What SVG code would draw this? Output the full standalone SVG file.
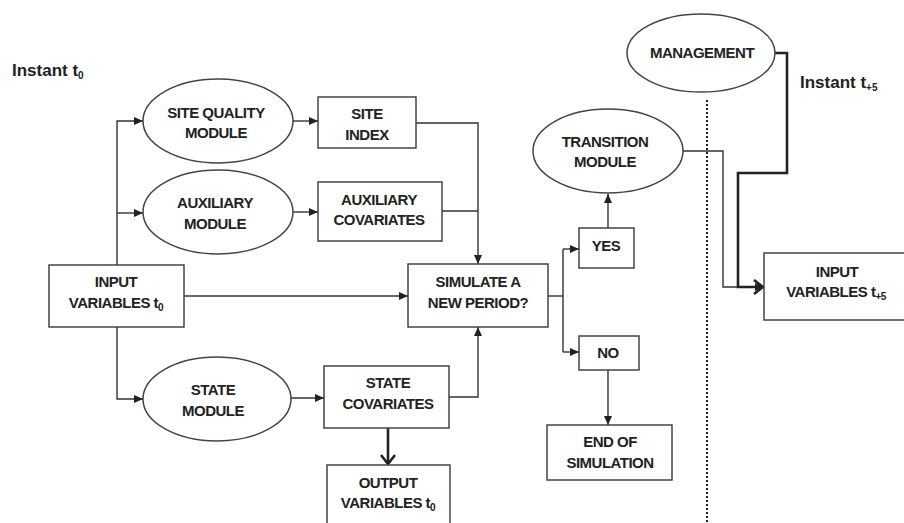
<svg xmlns="http://www.w3.org/2000/svg" width="904" height="523" viewBox="0 0 904 523">
<style>
.n{fill:#fff;stroke:#444;stroke-width:1.5}
.t{font-family:"Liberation Sans",Arial,sans-serif;font-size:15px;font-weight:bold;letter-spacing:-0.5px;fill:#222;text-anchor:middle}
.lbl{font-family:"Liberation Sans",Arial,sans-serif;font-size:17px;font-weight:bold;fill:#222}
.s{font-size:10px}
.c{fill:none;stroke:#333;stroke-width:1.4}
.ck{fill:none;stroke:#222;stroke-width:2.6}
.dot{fill:none;stroke:#222;stroke-width:2;stroke-dasharray:2 2}
</style>
<defs>
<marker id="a" markerUnits="userSpaceOnUse" markerWidth="10" markerHeight="10" refX="9" refY="4" orient="auto">
<path d="M0,0 L9,4 L0,8 z" fill="#222"/>
</marker>
<marker id="o" markerUnits="userSpaceOnUse" markerWidth="14" markerHeight="16" refX="12" refY="8" orient="auto">
<path d="M3,1 L12,8 L3,15" fill="none" stroke="#222" stroke-width="2.6"/>
</marker>
</defs>
<rect width="904" height="523" fill="#fff"/>

<text class="lbl" x="12" y="76">Instant t<tspan class="s" dy="3">0</tspan></text>
<text class="lbl" x="800" y="88">Instant t<tspan class="s" dy="3">+5</tspan></text>
<path class="dot" d="M707,100 V523"/>

<g id="connectors">
<path class="c" d="M117,265 V121 H143" marker-end="url(#a)"/>
<path class="c" d="M117,213 H143" marker-end="url(#a)"/>
<path class="c" d="M117,327 V399 H143" marker-end="url(#a)"/>
<path class="c" d="M184,296 H408" marker-end="url(#a)"/>
<path class="c" d="M293,121 H318" marker-end="url(#a)"/>
<path class="c" d="M293,212 H318" marker-end="url(#a)"/>
<path class="c" d="M291,398 H324" marker-end="url(#a)"/>
<path class="c" d="M416,123 H478 V264" marker-end="url(#a)"/>
<path class="c" d="M442,211 H478"/>
<path class="c" d="M449,397 H478 V327" marker-end="url(#a)"/>
<path class="ck" d="M388,428 V464" marker-end="url(#o)"/>
<path class="c" d="M548,296 H563"/>
<path class="c" d="M563,249 V352"/>
<path class="c" d="M563,249 H579" marker-end="url(#a)"/>
<path class="c" d="M563,352 H579" marker-end="url(#a)"/>
<path class="c" d="M608,228 V194" marker-end="url(#a)"/>
<path class="c" d="M608,370 V425" marker-end="url(#a)"/>
<path class="c" d="M682,151 H723 V287 H764" marker-end="url(#a)"/>
<path class="ck" d="M775,53 H787 V173 H738 V287 H763" marker-end="url(#o)"/>
</g>

<g id="site_quality">
<ellipse class="n" cx="218" cy="121" rx="75" ry="42"/>
<text class="t" x="216" y="118">SITE QUALITY</text>
<text class="t" x="216" y="138">MODULE</text>
</g>
<g id="site_index">
<rect class="n" x="318" y="97" width="98" height="51"/>
<text class="t" x="367" y="119">SITE</text>
<text class="t" x="367" y="140">INDEX</text>
</g>
<g id="aux_module">
<ellipse class="n" cx="218" cy="212" rx="75" ry="42"/>
<text class="t" x="215" y="208">AUXILIARY</text>
<text class="t" x="215" y="229">MODULE</text>
</g>
<g id="aux_cov">
<rect class="n" x="318" y="182" width="124" height="59"/>
<text class="t" x="379" y="205">AUXILIARY</text>
<text class="t" x="379" y="225">COVARIATES</text>
</g>
<g id="input_t0">
<rect class="n" x="49" y="265" width="135" height="62"/>
<text class="t" x="116" y="287">INPUT</text>
<text class="t" x="116" y="308">VARIABLES  t<tspan class="s" dy="3">0</tspan></text>
</g>
<g id="simulate">
<rect class="n" x="408" y="264" width="140" height="63"/>
<text class="t" x="478" y="287">SIMULATE  A</text>
<text class="t" x="478" y="308">NEW PERIOD?</text>
</g>
<g id="state_module">
<ellipse class="n" cx="217" cy="399" rx="74" ry="42"/>
<text class="t" x="213" y="395">STATE</text>
<text class="t" x="213" y="416">MODULE</text>
</g>
<g id="state_cov">
<rect class="n" x="324" y="366" width="125" height="62"/>
<text class="t" x="388" y="388">STATE</text>
<text class="t" x="388" y="409">COVARIATES</text>
</g>
<g id="output_t0">
<rect class="n" x="327" y="465" width="123" height="70"/>
<text class="t" x="388" y="488">OUTPUT</text>
<text class="t" x="388" y="508">VARIABLES  t<tspan class="s" dy="3">0</tspan></text>
</g>
<g id="yes">
<rect class="n" x="579" y="228" width="55" height="40"/>
<text class="t" x="606" y="251">YES</text>
</g>
<g id="no">
<rect class="n" x="579" y="336" width="60" height="34"/>
<text class="t" x="608" y="358">NO</text>
</g>
<g id="end">
<rect class="n" x="547" y="425" width="125" height="55"/>
<text class="t" x="610" y="447">END OF</text>
<text class="t" x="610" y="468">SIMULATION</text>
</g>
<g id="transition">
<ellipse class="n" cx="608" cy="151" rx="75" ry="42"/>
<text class="t" x="605" y="147">TRANSITION</text>
<text class="t" x="605" y="167">MODULE</text>
</g>
<g id="management">
<ellipse class="n" cx="701" cy="53" rx="74" ry="39"/>
<text class="t" x="702" y="58">MANAGEMENT</text>
</g>
<g id="input_t5">
<rect class="n" x="764" y="253" width="145" height="67"/>
<text class="t" x="837" y="277">INPUT</text>
<text class="t" x="836" y="297">VARIABLES  t<tspan class="s" dy="3">+5</tspan></text>
</g>
</svg>
